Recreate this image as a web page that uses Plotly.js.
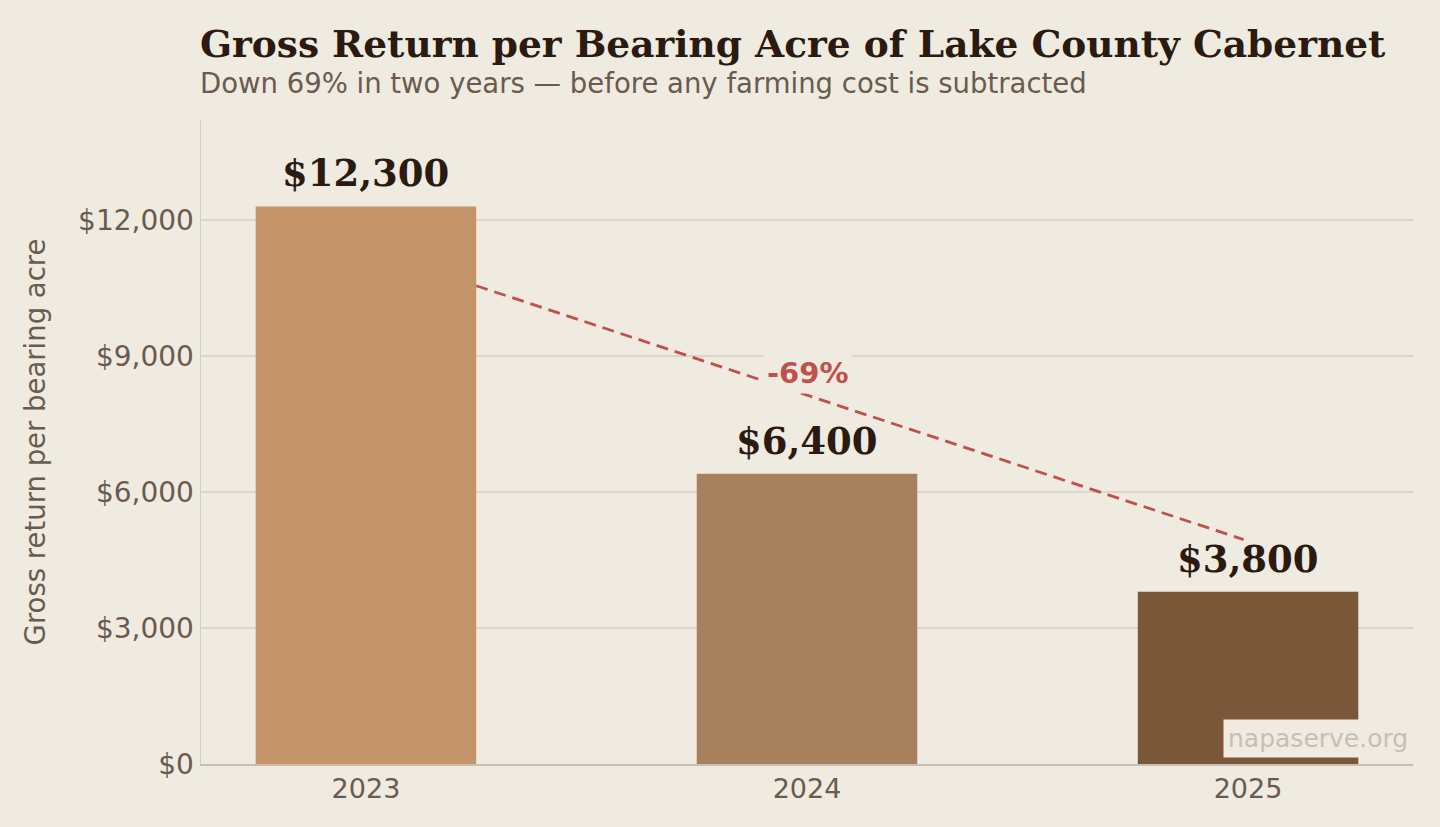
<!DOCTYPE html>
<html><head><meta charset="utf-8">
<script src="https://cdn.plot.ly/plotly-3.0.1.min.js"></script>
<style>html,body{margin:0;padding:0;background:#efebe1;}#chart{width:1440px;height:827px;}</style>
</head><body><div id="chart"></div>
<script>
const years = ['2023', '2024', '2025'];
const grossReturn = [12300, 6400, 3800];
const valueLabels = ['$12,300', '$6,400', '$3,800'];
const barColors = ['#c4946a', '#a7805e', '#7a5739'];
const yTickVals = [0, 3000, 6000, 9000, 12000];
const yTickText = ['$0', '$3,000', '$6,000', '$9,000', '$12,000'];
const trendStart = 10550;
const trendEnd = 4950;
const changeLabel = '-69%';

const bg = '#efebe1';
const trace = {
  type: 'bar', x: [0, 1, 2], y: grossReturn, width: 0.5,
  marker: {color: barColors}, hoverinfo: 'skip'
};
const annotations = grossReturn.map((v, i) => ({
  x: i, y: v, xref: 'x', yref: 'y', text: '<b>' + valueLabels[i] + '</b>', showarrow: false,
  yanchor: 'bottom', yshift: 9,
  font: {family: 'DejaVu Serif', size: 37, color: '#2b1a10'}
}));
annotations.push({
  x: 1, y: 8620, xref: 'x', yref: 'y', text: '<b>' + changeLabel + '</b>', showarrow: false,
  bgcolor: bg, borderpad: 3,
  font: {family: 'DejaVu Sans', size: 29, color: '#c0504d'}
});
annotations.push({
  x: 0, y: 1.118, xref: 'paper', yref: 'paper', xanchor: 'left', yanchor: 'middle', xshift: -3,
  text: '<b>Gross Return per Bearing Acre of Lake County Cabernet</b>', showarrow: false,
  font: {family: 'DejaVu Serif', size: 37.5, color: '#2b1a10'}
});
annotations.push({
  x: 0, y: 1.057, xref: 'paper', yref: 'paper', xanchor: 'left', yanchor: 'middle', xshift: -3,
  text: 'Down 69% in two years — before any farming cost is subtracted', showarrow: false,
  font: {family: 'DejaVu Sans', size: 27.5, color: '#6b5a4e'}
});
annotations.push({
  x: 1, y: 0.01, xref: 'paper', yref: 'paper', xanchor: 'right', yanchor: 'bottom',
  text: 'napaserve.org', showarrow: false, bgcolor: bg, borderpad: 4,
  font: {family: 'DejaVu Sans', size: 25, color: '#c8bfb2'}
});

const layout = {
  width: 1440, height: 827,
  paper_bgcolor: bg, plot_bgcolor: bg,
  margin: {l: 201, r: 27, t: 120, b: 63},
  showlegend: false,
  xaxis: {
    range: [-0.374, 2.374], tickvals: [0, 1, 2], ticktext: years,
    showgrid: false, zeroline: false, showline: true, linecolor: '#c8bfb0', linewidth: 1.5,
    ticks: '', tickfont: {family: 'DejaVu Sans', size: 27, color: '#6b5a4e'}
  },
  yaxis: {
    range: [0, 14206], tickvals: yTickVals, ticktext: yTickText,
    showgrid: true, gridcolor: '#dbd5ca', gridwidth: 2, zeroline: false,
    showline: true, linecolor: '#d3ccc0', linewidth: 1.5, ticks: '',
    tickfont: {family: 'DejaVu Sans', size: 28, color: '#6b5a4e'},
    title: {text: 'Gross return per bearing acre', standoff: 24,
      font: {family: 'DejaVu Sans', size: 27.5, color: '#6b5a4e'}}
  },
  shapes: [{
    type: 'line', xref: 'x', yref: 'y', x0: 0.25, y0: trendStart, x1: 1.99, y1: trendEnd,
    line: {color: '#c0504d', width: 2.8, dash: '12px,7px'}, layer: 'above'
  }],
  annotations: annotations
};
Plotly.newPlot('chart', [trace], layout, {displayModeBar: false, staticPlot: true});
</script></body></html>
